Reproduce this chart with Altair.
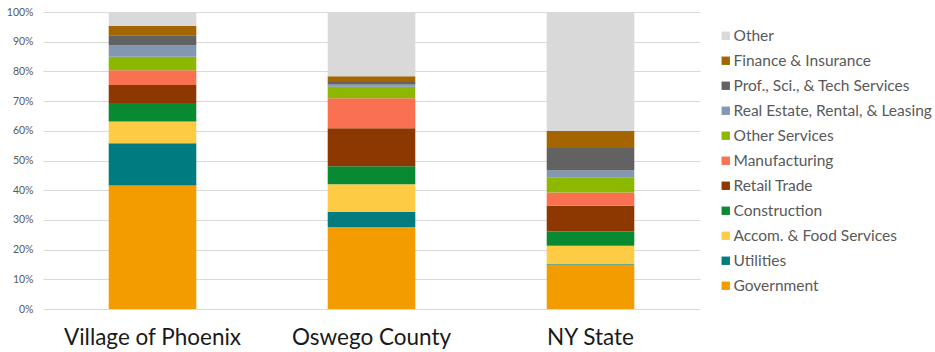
import altair as alt
import pandas as pd

# Industry categories, bottom of the stack first
industries = [
    "Government",
    "Utilities",
    "Accom. & Food Services",
    "Construction",
    "Retail Trade",
    "Manufacturing",
    "Other Services",
    "Real Estate, Rental, & Leasing",
    "Prof., Sci., & Tech Services",
    "Finance & Insurance",
    "Other",
]

colors = [
    "#F39C00",  # Government
    "#007B80",  # Utilities
    "#FECB45",  # Accom. & Food Services
    "#078A31",  # Construction
    "#8C3800",  # Retail Trade
    "#FA7152",  # Manufacturing
    "#8DB800",  # Other Services
    "#8298B2",  # Real Estate
    "#626262",  # Prof., Sci., & Tech
    "#A46500",  # Finance & Insurance
    "#D9D9D9",  # Other
]

regions = ["Village of Phoenix", "Oswego County", "NY State"]

# Share of employment (%) per industry, same order as `industries`
phoenix = [41.6, 14.2, 7.3, 6.3, 6.0, 5.0, 4.5, 3.8, 3.5, 3.2, 4.6]
oswego = [27.6, 5.1, 9.3, 6.1, 12.8, 10.1, 3.8, 0.8, 0.8, 2.0, 21.6]
ny_state = [14.8, 0.3, 6.2, 4.8, 8.7, 4.4, 5.2, 2.2, 7.6, 5.7, 40.1]

rows = []
for region, shares in zip(regions, [phoenix, oswego, ny_state]):
    for i, (ind, val) in enumerate(zip(industries, shares)):
        rows.append({"region": region, "industry": ind, "share": val / 100.0, "rank": i})
df = pd.DataFrame(rows)

font = "Lato"

chart = (
    alt.Chart(df)
    .mark_bar()
    .encode(
        x=alt.X(
            "region:N",
            sort=regions,
            title=None,
            scale=alt.Scale(paddingInner=0.6, paddingOuter=0.3),
            axis=alt.Axis(
                labelAngle=0,
                labelFontSize=22.5,
                labelColor="#1a1a1a",
                labelFont=font,
                labelPadding=17,
                ticks=False,
                domain=False,
            ),
        ),
        y=alt.Y(
            "share:Q",
            stack="zero",
            title=None,
            scale=alt.Scale(domain=[0, 1], nice=False),
            axis=alt.Axis(
                values=[i / 10 for i in range(11)],
                format=".0%",
                labelFontSize=10.5,
                labelColor="#595959",
                labelFont=font,
                labelPadding=10,
                ticks=False,
                domain=False,
                gridColor="#D9D9D9",
                gridWidth=1,
            ),
        ),
        color=alt.Color(
            "industry:N",
            scale=alt.Scale(domain=industries[::-1], range=colors[::-1]),
            legend=alt.Legend(
                title=None,
                orient="none",
                legendX=675,
                legendY=16,
                symbolType="square",
                symbolSize=70,
                symbolStrokeWidth=0,
                labelFontSize=15.5,
                labelFont=font,
                labelColor="#595959",
                labelOffset=0,
                rowPadding=8.0,
                labelLimit=300,
            ),
        ),
        order=alt.Order("rank:Q", sort="ascending"),
    )
    .properties(
        width=657,
        height=297,
        autosize=alt.AutoSizeParams(type="none"),
        padding={"left": 43, "top": 12, "right": 235, "bottom": 43},
        background="white",
    )
    .configure_view(stroke=None)
)

chart.save("out.html", embed_options={"renderer": "svg", "actions": False})
